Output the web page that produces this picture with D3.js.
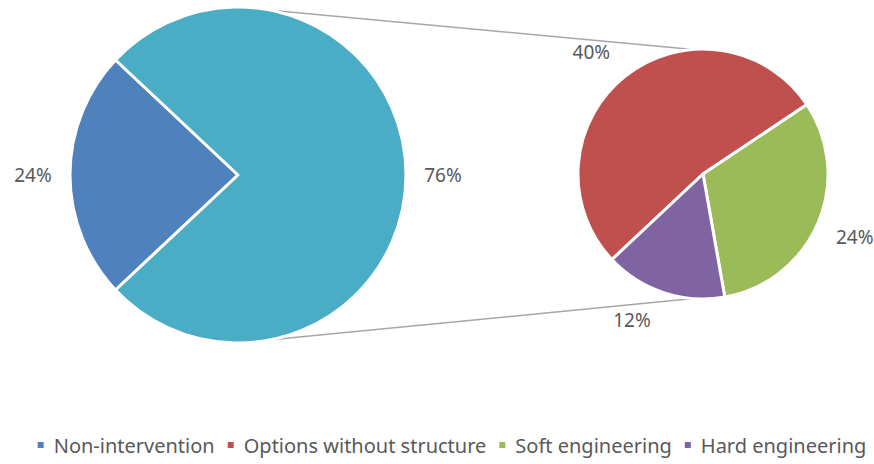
<!DOCTYPE html>
<html lang="en">
<head>
  <meta charset="UTF-8" />
  <title>Pie of pie</title>
  <script src="https://d3js.org/d3.v7.min.js"></script>
  <style>
    body { margin: 0; background: #fff; font-family: "Noto Sans", sans-serif; }
    .lbl { font-size: 19px; fill: #595959; }
    .legend text { font-size: 20px; fill: #595959; }
  </style>
</head>
<body>
  <svg width="874" height="464"></svg>

  <script>
    // data
    const categories = ["Non-intervention", "Options without structure", "Soft engineering", "Hard engineering"];
    const values = [24, 40, 24, 12];
    const colors = ["#4F81BD", "#C0504D", "#9BBB59", "#8064A2"];
    const otherColor = "#4BACC6";

    const svg = d3.select("svg");

    // layout
    const main = { cx: 238, cy: 175, r: 168 };
    const sub = { cx: 703, cy: 174, r: 125 };
    const start = -133.2 * Math.PI / 180;
    // small manual nudges Excel applies to the second pie's labels
    const subNudge = [[-9, 8], [0, -1], [-19, -10]];

    // first pie: the first category plus "other"
    const otherTotal = d3.sum(values.slice(1));
    const mainData = [
      { name: categories[0], value: values[0], color: colors[0] },
      { name: "Other", value: otherTotal, color: otherColor }
    ];
    const subData = categories.slice(1).map((c, i) => ({ name: c, value: values[i + 1], color: colors[i + 1] }));

    const total = d3.sum(values);
    const fmt = d => Math.round(d / total * 100) + "%";

    function drawPie(data, geo, labelGap, nudge) {
      const pie = d3.pie().sort(null).value(d => d.value)
        .startAngle(start).endAngle(start + 2 * Math.PI);
      const arc = d3.arc().innerRadius(0).outerRadius(geo.r);
      const lab = d3.arc().innerRadius(geo.r + labelGap).outerRadius(geo.r + labelGap);
      const g = svg.append("g").attr("transform", `translate(${geo.cx},${geo.cy})`);
      const arcs = pie(data);
      g.selectAll("path").data(arcs).join("path")
        .attr("d", arc)
        .attr("fill", d => d.data.color)
        .attr("stroke", "#fff")
        .attr("stroke-width", 3)
        .attr("stroke-linejoin", "round");
      g.selectAll("text").data(arcs).join("text")
        .attr("class", "lbl")
        .attr("transform", (d, i) => {
          const [x, y] = lab.centroid(d);
          const n = nudge ? nudge[i] : [0, 0];
          return `translate(${x + n[0]},${y + n[1]})`;
        })
        .attr("text-anchor", "middle")
        .attr("dy", "0.35em")
        .text(d => fmt(d.data.value));
    }

    // connector lines between the pies
    const a1 = 78.7 * Math.PI / 180, a2 = 94.5 * Math.PI / 180;
    [1, -1].forEach(s => {
      svg.append("line")
        .attr("x1", main.cx + main.r * Math.cos(a1))
        .attr("y1", main.cy - s * main.r * Math.sin(a1))
        .attr("x2", sub.cx + sub.r * Math.cos(a2))
        .attr("y2", sub.cy - s * sub.r * Math.sin(a2))
        .attr("stroke", "#a6a6a6")
        .attr("stroke-width", 1.5);
    });

    drawPie(mainData, main, 37);
    drawPie(subData, sub, 40, subNudge);

    // legend
    const legend = svg.append("g").attr("class", "legend");
    const items = legend.selectAll("g").data(categories).join("g");
    items.append("rect")
      .attr("width", 6).attr("height", 6)
      .attr("y", -4)
      .attr("fill", (d, i) => colors[i]);
    items.append("text")
      .attr("x", 16)
      .attr("dy", "0.33em")
      .text(d => d);
    let x = 0;
    items.each(function () {
      const w = this.querySelector("text").getComputedTextLength() + 16;
      d3.select(this).attr("transform", `translate(${x},0)`);
      x += w + 13;
    });
    x -= 13;
    legend.attr("transform", `translate(${452 - x / 2},446)`);
  </script>
</body>
</html>
